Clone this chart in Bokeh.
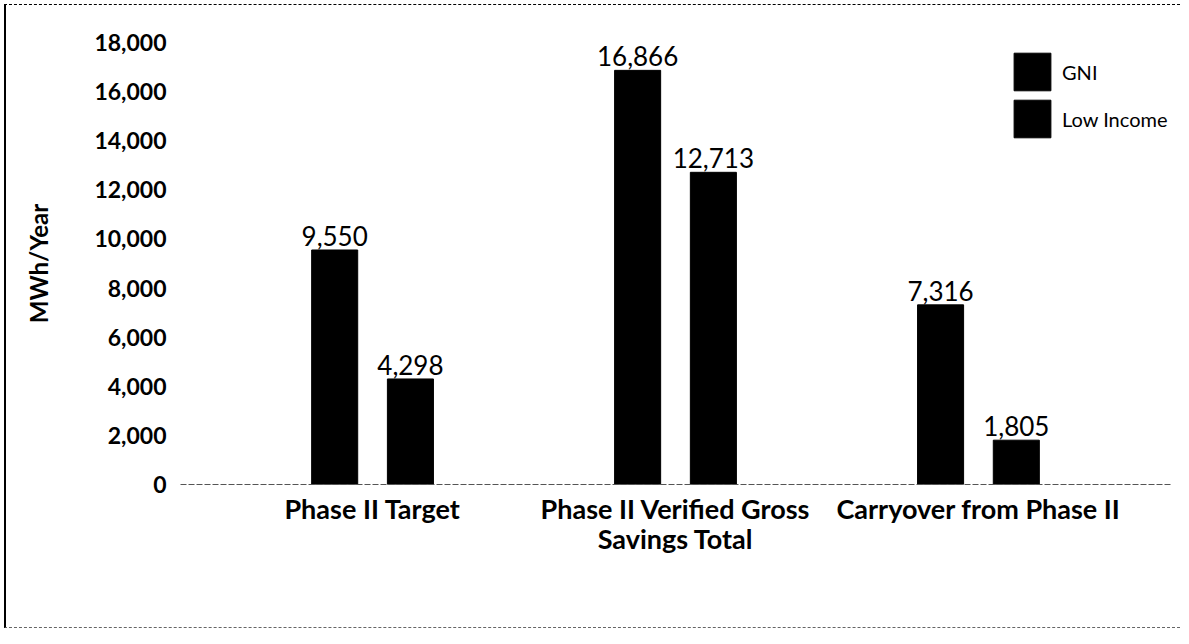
from bokeh.plotting import figure
from bokeh.models import ColumnDataSource, FactorRange, Range1d, LabelSet, Legend, LegendItem, FixedTicker, NumeralTickFormatter
from bokeh.core.properties import value
from bokeh.transform import dodge
from bokeh.embed import file_html
from bokeh.resources import INLINE

categories = ["Phase II Target", "Phase II Verified Gross\nSavings Total", "Carryover from Phase II"]
gni = [9550, 16866, 7316]
low_income = [4298, 12713, 1805]
series_names = ["GNI", "Low Income"]
y_ticks = [0, 2000, 4000, 6000, 8000, 10000, 12000, 14000, 16000, 18000]

FONT = "Lato"

src = ColumnDataSource(dict(
    cat=categories,
    gni=gni,
    li=low_income,
    gni_lbl=[f"{v:,}" for v in gni],
    li_lbl=[f"{v:,}" for v in low_income],
))

p = figure(
    x_range=FactorRange(*categories, range_padding=0.0893),
    y_range=Range1d(0, 18000),
    width=1176, height=624,
    output_backend="svg", toolbar_location=None,
    min_border_left=174, min_border_right=12, min_border_top=37, min_border_bottom=145,
)
p.styles = {"margin-left": "4px", "margin-top": "4px",
            "border-left": "2px solid black", "border-top": "1px dashed black",
            "border-bottom": "1px dashed #666666"}

r1 = p.vbar(x=dodge("cat", -0.125, range=p.x_range), top="gni", width=0.152, source=src,
            fill_color="black", line_color="black")
r2 = p.vbar(x=dodge("cat", 0.125, range=p.x_range), top="li", width=0.152, source=src,
            fill_color="black", line_color="black")

for col, lbl, off in (("gni", "gni_lbl", -0.125), ("li", "li_lbl", 0.125)):
    ls = LabelSet(x=dodge("cat", off, range=p.x_range), y=col, text=lbl, source=src,
                  text_align="center", text_baseline="bottom", y_offset=4,
                  text_font=value(FONT), text_font_size="26px", text_color="black")
    p.add_layout(ls)

legend = Legend(items=[LegendItem(label=series_names[0], renderers=[r1]),
                       LegendItem(label=series_names[1], renderers=[r2])],
                location=(829, 342), padding=0, spacing=-4,
                glyph_width=46, glyph_height=47, label_standoff=7,
                label_text_font=FONT, label_text_font_size="20px", label_text_color="black",
                background_fill_alpha=0, border_line_color=None)
p.add_layout(legend)

p.xgrid.grid_line_color = None
p.ygrid.grid_line_color = None
p.outline_line_color = None

p.yaxis.ticker = FixedTicker(ticks=y_ticks)
p.yaxis.formatter = NumeralTickFormatter(format="0,0")
p.yaxis.axis_line_color = None
p.yaxis.major_tick_line_color = None
p.yaxis.minor_tick_line_color = None
p.yaxis.major_label_text_font = FONT
p.yaxis.major_label_text_font_size = "23px"
p.yaxis.major_label_text_font_style = "bold"
p.yaxis.major_label_text_color = "black"
p.yaxis.major_label_standoff = 8
p.yaxis.axis_label = "MWh/Year"
p.yaxis.axis_label_text_font = FONT
p.yaxis.axis_label_text_font_size = "24px"
p.yaxis.axis_label_text_font_style = "bold"
p.yaxis.axis_label_text_color = "black"
p.yaxis.axis_label_standoff = 38

p.xaxis.axis_line_color = "#555555"
p.xaxis.axis_line_dash = "6 2"
p.xaxis.major_tick_line_color = None
p.xaxis.minor_tick_line_color = None
p.xaxis.major_label_text_font = FONT
p.xaxis.major_label_text_font_size = "27px"
p.xaxis.major_label_text_font_style = "bold"
p.xaxis.major_label_text_color = "black"
p.xaxis.major_label_text_line_height = 0.92
p.xaxis.major_label_standoff = 1

open("out.html", "w").write(file_html(p, INLINE))
